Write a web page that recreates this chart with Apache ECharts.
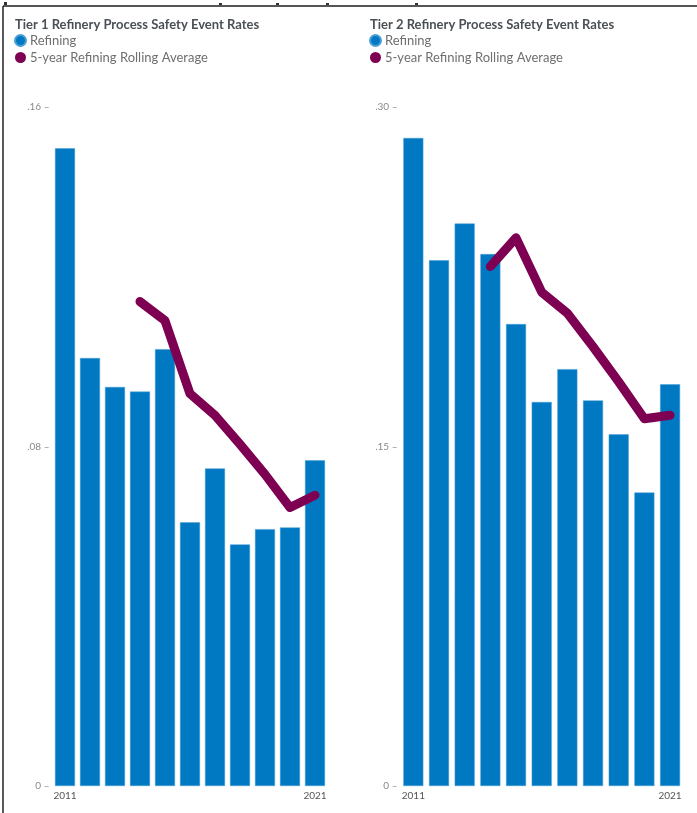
<!DOCTYPE html>
<html>
<head>
<meta charset="utf-8">
<script src="https://cdn.jsdelivr.net/npm/echarts@6/dist/echarts.min.js"></script>
<style>
html,body{margin:0;padding:0;background:#fff;}
#main{width:697px;height:813px;}
</style>
</head>
<body>
<div id="main"></div>
<script>
const years = ['2011','2012','2013','2014','2015','2016','2017','2018','2019','2020','2021'];
const tier1Refining = [0.1502, 0.1008, 0.0940, 0.0929, 0.1029, 0.0621, 0.0748, 0.0569, 0.0605, 0.0609, 0.0767];
const tier1Rolling = [null, null, null, 0.1141, 0.1096, 0.0924, 0.0873, 0.0805, 0.0734, 0.0656, 0.0685];
const tier2Refining = [0.2862, 0.2322, 0.2484, 0.2349, 0.2040, 0.1696, 0.1841, 0.1703, 0.1553, 0.1296, 0.1774];
const tier2Rolling = [null, null, null, 0.2294, 0.2421, 0.2181, 0.2088, 0.1940, 0.1785, 0.1622, 0.1637];
const tier1TickValues = [0, 0.08, 0.16];
const tier1TickLabels = ['0', '.08', '.16'];
const tier2TickValues = [0, 0.15, 0.30];
const tier2TickLabels = ['0', '.15', '.30'];
const titles = ['Tier 1 Refinery Process Safety Event Rates', 'Tier 2 Refinery Process Safety Event Rates'];
const seriesNames = ['Refining', '5-year Refining Rolling Average'];

const BLUE = '#0079c2';
const PURPLE = '#7d0052';
const FONT = 'Lato';

function tickFormatter(values, labels) {
  return function (v) {
    for (let i = 0; i < values.length; i++) {
      if (Math.abs(values[i] - v) < 1e-9) return labels[i] + ' \u2013';
    }
    return '';
  };
}

function xAxis(gi) {
  return {
    type: 'category', gridIndex: gi, data: years,
    axisLine: {show: false}, axisTick: {show: false},
    axisLabel: {
      interval: function (i) { return i === 0 || i === years.length - 1; },
      fontFamily: FONT, fontSize: 10, color: '#555', margin: 5
    },
    splitLine: {show: false}
  };
}
function yAxis(gi, max, interval, vals, labs) {
  return {
    type: 'value', gridIndex: gi, min: 0, max: max, interval: interval,
    axisLine: {show: false}, axisTick: {show: false}, splitLine: {show: false},
    axisLabel: {formatter: tickFormatter(vals, labs), fontFamily: FONT, fontSize: 10, color: '#8a8a8a', margin: 3}
  };
}
function legend(left) {
  return {
    left: left, top: 34, orient: 'vertical', padding: 0, itemGap: 4, itemWidth: 11, itemHeight: 11,
    textStyle: {fontFamily: FONT, fontSize: 13, color: '#6f6f6f', padding: [0, 0, 0, -1]},
    data: [{name: seriesNames[0], icon: 'circle'}, {name: seriesNames[1], icon: 'circle'}],
    selectedMode: false
  };
}

const chart = echarts.init(document.getElementById('main'), null, {renderer: 'canvas'});
chart.setOption({
  animation: false,
  backgroundColor: '#fff',
  title: [
    {text: titles[0], left: 10, top: 13, textStyle: {fontFamily: FONT, fontWeight: 'bold', fontSize: 13, color: '#4b5056'}},
    {text: titles[1], left: 365, top: 13, textStyle: {fontFamily: FONT, fontWeight: 'bold', fontSize: 13, color: '#4b5056'}}
  ],
  legend: [legend(14), legend(369)],
  grid: [
    {left: 52.5, top: 106.7, width: 275, bottom: 27},
    {left: 400.5, top: 106.7, width: 282.4, bottom: 27}
  ],
  xAxis: [xAxis(0), xAxis(1)],
  yAxis: [
    yAxis(0, 0.16, 0.08, tier1TickValues, tier1TickLabels),
    yAxis(1, 0.30, 0.15, tier2TickValues, tier2TickLabels)
  ],
  series: [
    {name: seriesNames[0], type: 'bar', xAxisIndex: 0, yAxisIndex: 0, data: tier1Refining, barWidth: 20,
     itemStyle: {color: BLUE, borderColor: '#4a9fd6', borderWidth: 0.5}},
    {name: seriesNames[1], type: 'line', xAxisIndex: 0, yAxisIndex: 0, data: tier1Rolling, showSymbol: false, symbol: 'none',
     lineStyle: {color: PURPLE, width: 9, cap: 'round', join: 'round'}, itemStyle: {color: PURPLE}},
    {name: seriesNames[0], type: 'bar', xAxisIndex: 1, yAxisIndex: 1, data: tier2Refining, barWidth: 20,
     itemStyle: {color: BLUE, borderColor: '#4a9fd6', borderWidth: 0.5}},
    {name: seriesNames[1], type: 'line', xAxisIndex: 1, yAxisIndex: 1, data: tier2Rolling, showSymbol: false, symbol: 'none',
     lineStyle: {color: PURPLE, width: 9, cap: 'round', join: 'round'}, itemStyle: {color: PURPLE}}
  ],
  graphic: [
    {type: 'line', shape: {x1: 3, y1: 6, x2: 697, y2: 6}, style: {stroke: '#555', lineWidth: 2}},
    {type: 'line', shape: {x1: 3, y1: 6, x2: 3, y2: 813}, style: {stroke: '#222', lineWidth: 1.5}},
    {type: 'rect', shape: {x: 4, y: 2, width: 3, height: 3}, style: {fill: '#333'}},
    {type: 'rect', shape: {x: 219, y: 3, width: 3, height: 2}, style: {fill: '#333'}},
    {type: 'rect', shape: {x: 276, y: 3, width: 3, height: 2}, style: {fill: '#333'}},
    {type: 'rect', shape: {x: 326, y: 3, width: 3, height: 2}, style: {fill: '#333'}},
    {type: 'rect', shape: {x: 415, y: 3, width: 3, height: 2}, style: {fill: '#333'}}
  ]
});
</script>
</body>
</html>
